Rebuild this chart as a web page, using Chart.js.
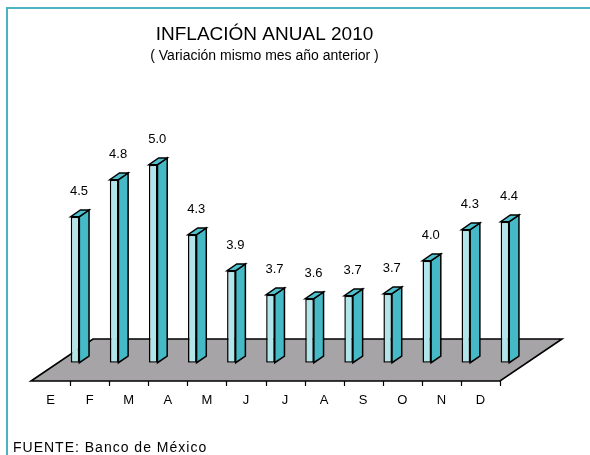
<!DOCTYPE html>
<html>
<head>
<meta charset="utf-8">
<script src="https://cdn.jsdelivr.net/npm/chart.js@4.4.1/dist/chart.umd.min.js"></script>
<style>
  html, body { margin: 0; padding: 0; background: #fff; }
  canvas { display: block; }
</style>
</head>
<body>
<canvas id="c" width="590" height="455"></canvas>
<script>
// ---- Data ----
const months = ['E', 'F', 'M', 'A', 'M', 'J', 'J', 'A', 'S', 'O', 'N', 'D'];
const inflation = [4.46, 4.83, 4.98, 4.28, 3.92, 3.68, 3.64, 3.67, 3.69, 4.02, 4.33, 4.41];
const titleText = 'INFLACIÓN ANUAL 2010';
const subtitleText = '( Variación mismo mes año anterior )';
const sourceText = 'FUENTE: Banco de México';

const FONT = '"Liberation Sans", Arial, sans-serif';

// 3D look: depth offset of bars and of the floor
const DEPTH = { barDx: 9.7, barDy: -6.7, floorDx: 62, floorDy: -42, frontShiftX: 24.5, frontShiftY: 18.3 };

const pseudo3D = {
  id: 'pseudo3D',
  beforeDraw(chart) {
    const ctx = chart.ctx;
    ctx.save();
    ctx.fillStyle = '#ffffff';
    ctx.fillRect(0, 0, chart.width, chart.height);
    // teal frame (left and top visible)
    ctx.strokeStyle = '#4DB3C0';
    ctx.lineWidth = 2;
    ctx.beginPath();
    ctx.moveTo(7, chart.height + 2);
    ctx.lineTo(7, 8);
    ctx.lineTo(chart.width + 2, 8);
    ctx.stroke();
    ctx.restore();
  },
  beforeDatasetsDraw(chart) {
    const ctx = chart.ctx;
    const xs = chart.scales.x;
    const area = chart.chartArea;
    const fx0 = xs.left - DEPTH.frontShiftX;
    const fx1 = xs.right - DEPTH.frontShiftX;
    const fy = area.bottom + DEPTH.frontShiftY;
    ctx.save();
    ctx.beginPath();
    ctx.moveTo(fx0, fy);
    ctx.lineTo(fx1, fy);
    ctx.lineTo(fx1 + DEPTH.floorDx, fy + DEPTH.floorDy);
    ctx.lineTo(fx0 + DEPTH.floorDx, fy + DEPTH.floorDy);
    ctx.closePath();
    ctx.fillStyle = '#A6A4A6';
    ctx.fill();
    ctx.strokeStyle = '#000';
    ctx.lineWidth = 1.6;
    ctx.lineJoin = 'miter';
    ctx.stroke();
    // tick marks along front edge
    const n = months.length;
    const step = (fx1 - fx0) / n;
    ctx.lineWidth = 1.2;
    ctx.beginPath();
    for (let k = 1; k <= n; k++) {
      const tx = Math.round(fx0 + k * step) + 0.5;
      ctx.moveTo(tx, fy);
      ctx.lineTo(tx, fy + 5);
    }
    ctx.stroke();
    ctx.restore();
  },
  afterDatasetsDraw(chart) {
    const ctx = chart.ctx;
    const area = chart.chartArea;
    const meta = chart.getDatasetMeta(0);
    const dx = DEPTH.barDx, dy = DEPTH.barDy;
    ctx.save();
    ctx.strokeStyle = '#000';
    ctx.lineWidth = 1.5;
    ctx.lineJoin = 'miter';
    meta.data.forEach((bar, i) => {
      const p = bar.getProps(['x', 'y', 'base', 'width'], true);
      const l = p.x - p.width / 2, r = p.x + p.width / 2;
      const top = p.y, bot = Math.min(p.base, area.bottom);
      // side face
      ctx.beginPath();
      ctx.moveTo(r, bot);
      ctx.lineTo(r, top);
      ctx.lineTo(r + dx, top + dy);
      ctx.lineTo(r + dx, bot + dy);
      ctx.closePath();
      ctx.fillStyle = '#45BAC6';
      ctx.fill();
      ctx.stroke();
      // top face
      ctx.beginPath();
      ctx.moveTo(l, top);
      ctx.lineTo(r, top);
      ctx.lineTo(r + dx, top + dy);
      ctx.lineTo(l + dx, top + dy);
      ctx.closePath();
      ctx.fillStyle = '#4FC0CC';
      ctx.fill();
      ctx.stroke();
      // value label
      ctx.fillStyle = '#000';
      ctx.font = '13px ' + FONT;
      ctx.textAlign = 'center';
      ctx.textBaseline = 'middle';
      ctx.fillText(inflation[i].toFixed(1), p.x + 4, top - 25);
    });
    ctx.restore();
  },
  afterDraw(chart) {
    const ctx = chart.ctx;
    ctx.save();
    ctx.fillStyle = '#000';
    ctx.font = '14px ' + FONT;
    ctx.textAlign = 'left';
    ctx.textBaseline = 'alphabetic';
    try { ctx.letterSpacing = '1px'; } catch (e) {}
    ctx.fillText(sourceText, 13, 452);
    ctx.restore();
  }
};

const hiddenAxis = (pos, w) => ({
  type: 'linear',
  position: pos,
  display: true,
  grid: { display: false, drawTicks: false },
  border: { display: false },
  ticks: { display: false },
  afterFit: (s) => { s.width = w; }
});

new Chart(document.getElementById('c'), {
  type: 'bar',
  data: {
    labels: months,
    datasets: [{
      label: 'Inflación anual',
      data: inflation,
      base: 3,
      yAxisID: 'y',
      backgroundColor: '#B2E5EA',
      borderColor: '#000',
      borderWidth: 1.5,
      borderSkipped: false,
      categoryPercentage: 1,
      barPercentage: 0.22
    }]
  },
  options: {
    responsive: false,
    animation: false,
    events: [],
    layout: { padding: { left: 0, right: 61, top: 0, bottom: 17.7 } },
    plugins: {
      legend: { display: false },
      tooltip: { enabled: false },
      title: {
        display: true,
        text: titleText,
        color: '#000',
        font: { family: FONT, size: 19, weight: 'normal' },
        padding: { top: 23.6, bottom: 0 }
      },
      subtitle: {
        display: true,
        text: subtitleText,
        color: '#000',
        font: { family: FONT, size: 14, weight: 'normal' },
        padding: { top: 1.2, bottom: 48.3 }
      }
    },
    scales: {
      x: {
        display: true,
        grid: { display: false, drawTicks: false },
        border: { display: false },
        ticks: {
          color: '#000',
          font: { family: FONT, size: 13 },
          padding: 29.5,
          labelOffset: -24.5,
          autoSkip: false,
          maxRotation: 0
        }
      },
      y: Object.assign(hiddenAxis('left', 55.5), { min: 3, max: 5.5 }),
      yRight: Object.assign(hiddenAxis('right', 4.5), { min: 3, max: 5.5 })
    }
  },
  plugins: [pseudo3D]
});
</script>
</body>
</html>
